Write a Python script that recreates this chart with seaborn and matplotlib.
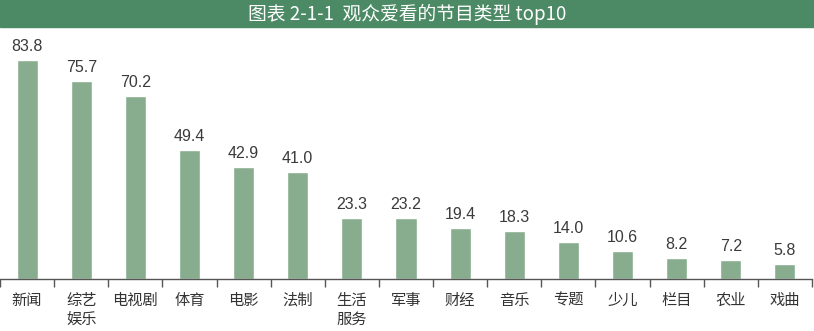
import matplotlib
matplotlib.use("Agg")
import matplotlib.pyplot as plt
import seaborn as sns
import pandas as pd

categories = ["新闻", "综艺\n娱乐", "电视剧", "体育", "电影", "法制", "生活\n服务",
              "军事", "财经", "音乐", "专题", "少儿", "栏目", "农业", "戏曲"]
values = [83.8, 75.7, 70.2, 49.4, 42.9, 41.0, 23.3, 23.2, 19.4, 18.3, 14.0, 10.6, 8.2, 7.2, 5.8]
title = "图表 2-1-1  观众爱看的节目类型 top10"

sns.set_style("white")
plt.rcParams["font.family"] = ["Noto Sans CJK SC", "DejaVu Sans"]

df = pd.DataFrame({"type": categories, "pct": values})

W, H = 814, 331
fig = plt.figure(figsize=(W / 100, H / 100), dpi=100)

# title banner
fig.patches.append(plt.Rectangle((0, 1 - 27 / H), 1, 27 / H, transform=fig.transFigure,
                                 color="#4c8a65", zorder=0))
fig.text(0.5, 1 - 14 / H, title, color="white", fontsize=13.5, ha="center", va="center")

ax = fig.add_axes([0, (H - 279) / H, 812 / W, (279 - 30) / H])
sns.barplot(data=df, x="type", y="pct", color="#88ad8e", saturation=1, width=0.39, ax=ax)
ax.set_xlim(-0.5, len(categories) - 0.5)
ax.set_ylim(0, 95.4)
ax.set_xlabel("")
ax.set_ylabel("")
ax.set_yticks([])

for s in ["top", "left", "right"]:
    ax.spines[s].set_visible(False)
ax.spines["bottom"].set_color("#555555")
ax.spines["bottom"].set_linewidth(1.0)

# ticks on category boundaries, labels in category centres
ax.set_xticks([i - 0.5 for i in range(len(categories) + 1)], minor=False)
ax.set_xticklabels([])
ax.tick_params(axis="x", which="major", direction="out", length=6, width=1, color="#555555", bottom=True)
ax.set_xticks(range(len(categories)), minor=True)
ax.set_xticklabels(categories, minor=True, fontsize=11, color="#333333", linespacing=1.15, va="top")
ax.tick_params(axis="x", which="minor", length=0, pad=9)

for i, v in enumerate(values):
    ax.text(i, v + 2.3, f"{v:.1f}", ha="center", va="bottom", fontsize=11.5,
            color="#3a3a3a", family=["Liberation Sans", "DejaVu Sans"])

fig.savefig("out.png", dpi=100)
